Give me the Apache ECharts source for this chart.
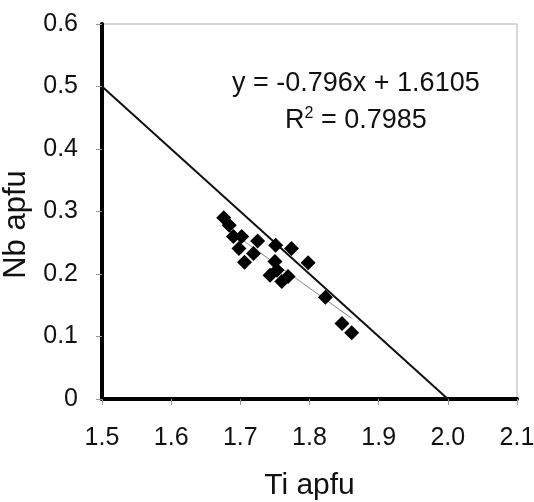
<!DOCTYPE html>
<html>
<head>
<meta charset="utf-8">
<script src="https://cdn.jsdelivr.net/npm/echarts@6/dist/echarts.min.js"></script>
<style>
html,body{margin:0;padding:0;background:#fff;}
#chart{width:534px;height:502px;}
</style>
</head>
<body>
<div id="chart"></div>
<script>
// Measured data (Ti apfu, Nb apfu)
var tiValues = [1.676, 1.684, 1.690, 1.702, 1.698, 1.725, 1.719, 1.706, 1.751, 1.774, 1.798, 1.750, 1.753, 1.743, 1.760, 1.769, 1.823, 1.847, 1.861];
var nbValues = [0.290, 0.278, 0.260, 0.260, 0.241, 0.253, 0.233, 0.219, 0.246, 0.241, 0.218, 0.220, 0.206, 0.198, 0.188, 0.196, 0.163, 0.121, 0.106];
// Ideal substitution line endpoints
var idealX = [1.5, 2.0];
var idealY = [0.5, 0.0];
// Trendline endpoints
var trendX = [1.676, 1.861];
var trendY = [0.276, 0.129];
var xTicks = ['1.5','1.6','1.7','1.8','1.9','2.0','2.1'];
var yTicks = ['0','0.1','0.2','0.3','0.4','0.5','0.6'];
var eqLine1 = 'y = -0.796x + 1.6105';
var eqLine2 = 'R{sup|2} = 0.7985';

function pairs(xs, ys){ return xs.map(function(x,i){ return [x, ys[i]]; }); }

var font = '"Liberation Sans", Arial, sans-serif';
var chart = echarts.init(document.getElementById('chart'));
chart.setOption({
  animation: false,
  backgroundColor: '#fff',
  grid: { left: 102, right: 17, top: 24, bottom: 103, containLabel: false, outerBoundsMode: 'none',
    show: true, borderColor: '#b0b0b0', borderWidth: 1 },
  xAxis: {
    type: 'value', min: 1.5, max: 2.1, interval: 0.1,
    name: 'Ti apfu', nameLocation: 'middle', nameGap: 72,
    nameTextStyle: { fontFamily: font, fontSize: 30, color: '#111' },
    axisLine: { show: true, onZero: false, lineStyle: { color: '#000', width: 4 } },
    axisTick: { show: true, length: 6, lineStyle: { color: '#999', width: 1 } },
    axisLabel: { margin: 27, fontFamily: font, fontSize: 25, color: '#111',
      formatter: function(v){ var s = v.toFixed(1); return xTicks.indexOf(s) >= 0 ? s : ''; } },
    splitLine: { show: false }
  },
  yAxis: {
    type: 'value', min: 0, max: 0.6, interval: 0.1,
    name: 'Nb apfu', nameLocation: 'middle', nameGap: 62,
    nameTextStyle: { fontFamily: font, fontSize: 31, color: '#111', padding: [0, 26, 0, 0] },
    axisLine: { show: true, onZero: false, lineStyle: { color: '#000', width: 4 } },
    axisTick: { show: true, length: 6, lineStyle: { color: '#999', width: 1 } },
    axisLabel: { margin: 24, fontFamily: font, fontSize: 25, color: '#111',
      formatter: function(v){ var s = v === 0 ? '0' : v.toFixed(1); return yTicks.indexOf(s) >= 0 ? s : ''; } },
    splitLine: { show: false }
  },
  series: [
    { type: 'line', data: pairs(idealX, idealY), symbol: 'none', lineStyle: { color: '#111', width: 2 }, z: 3 },
    { type: 'line', data: pairs(trendX, trendY), symbol: 'none', lineStyle: { color: '#888', width: 1 }, z: 4 },
    { type: 'scatter', data: pairs(tiValues, nbValues), symbol: 'diamond', symbolSize: [15, 15],
      itemStyle: { color: '#000', opacity: 1 }, z: 5 }
  ],
  graphic: [
    { type: 'text', left: 232, top: 70, style: { text: eqLine1, font: '27px "Liberation Sans", Arial, sans-serif', fill: '#111' } },
    { type: 'text', left: 285, top: 106, style: { text: eqLine2, font: '27px "Liberation Sans", Arial, sans-serif', fill: '#111',
      rich: { sup: { fontSize: 16, verticalAlign: 'top', padding: [0,0,14,0], fontFamily: font } } } }
  ]
});
</script>
</body>
</html>
